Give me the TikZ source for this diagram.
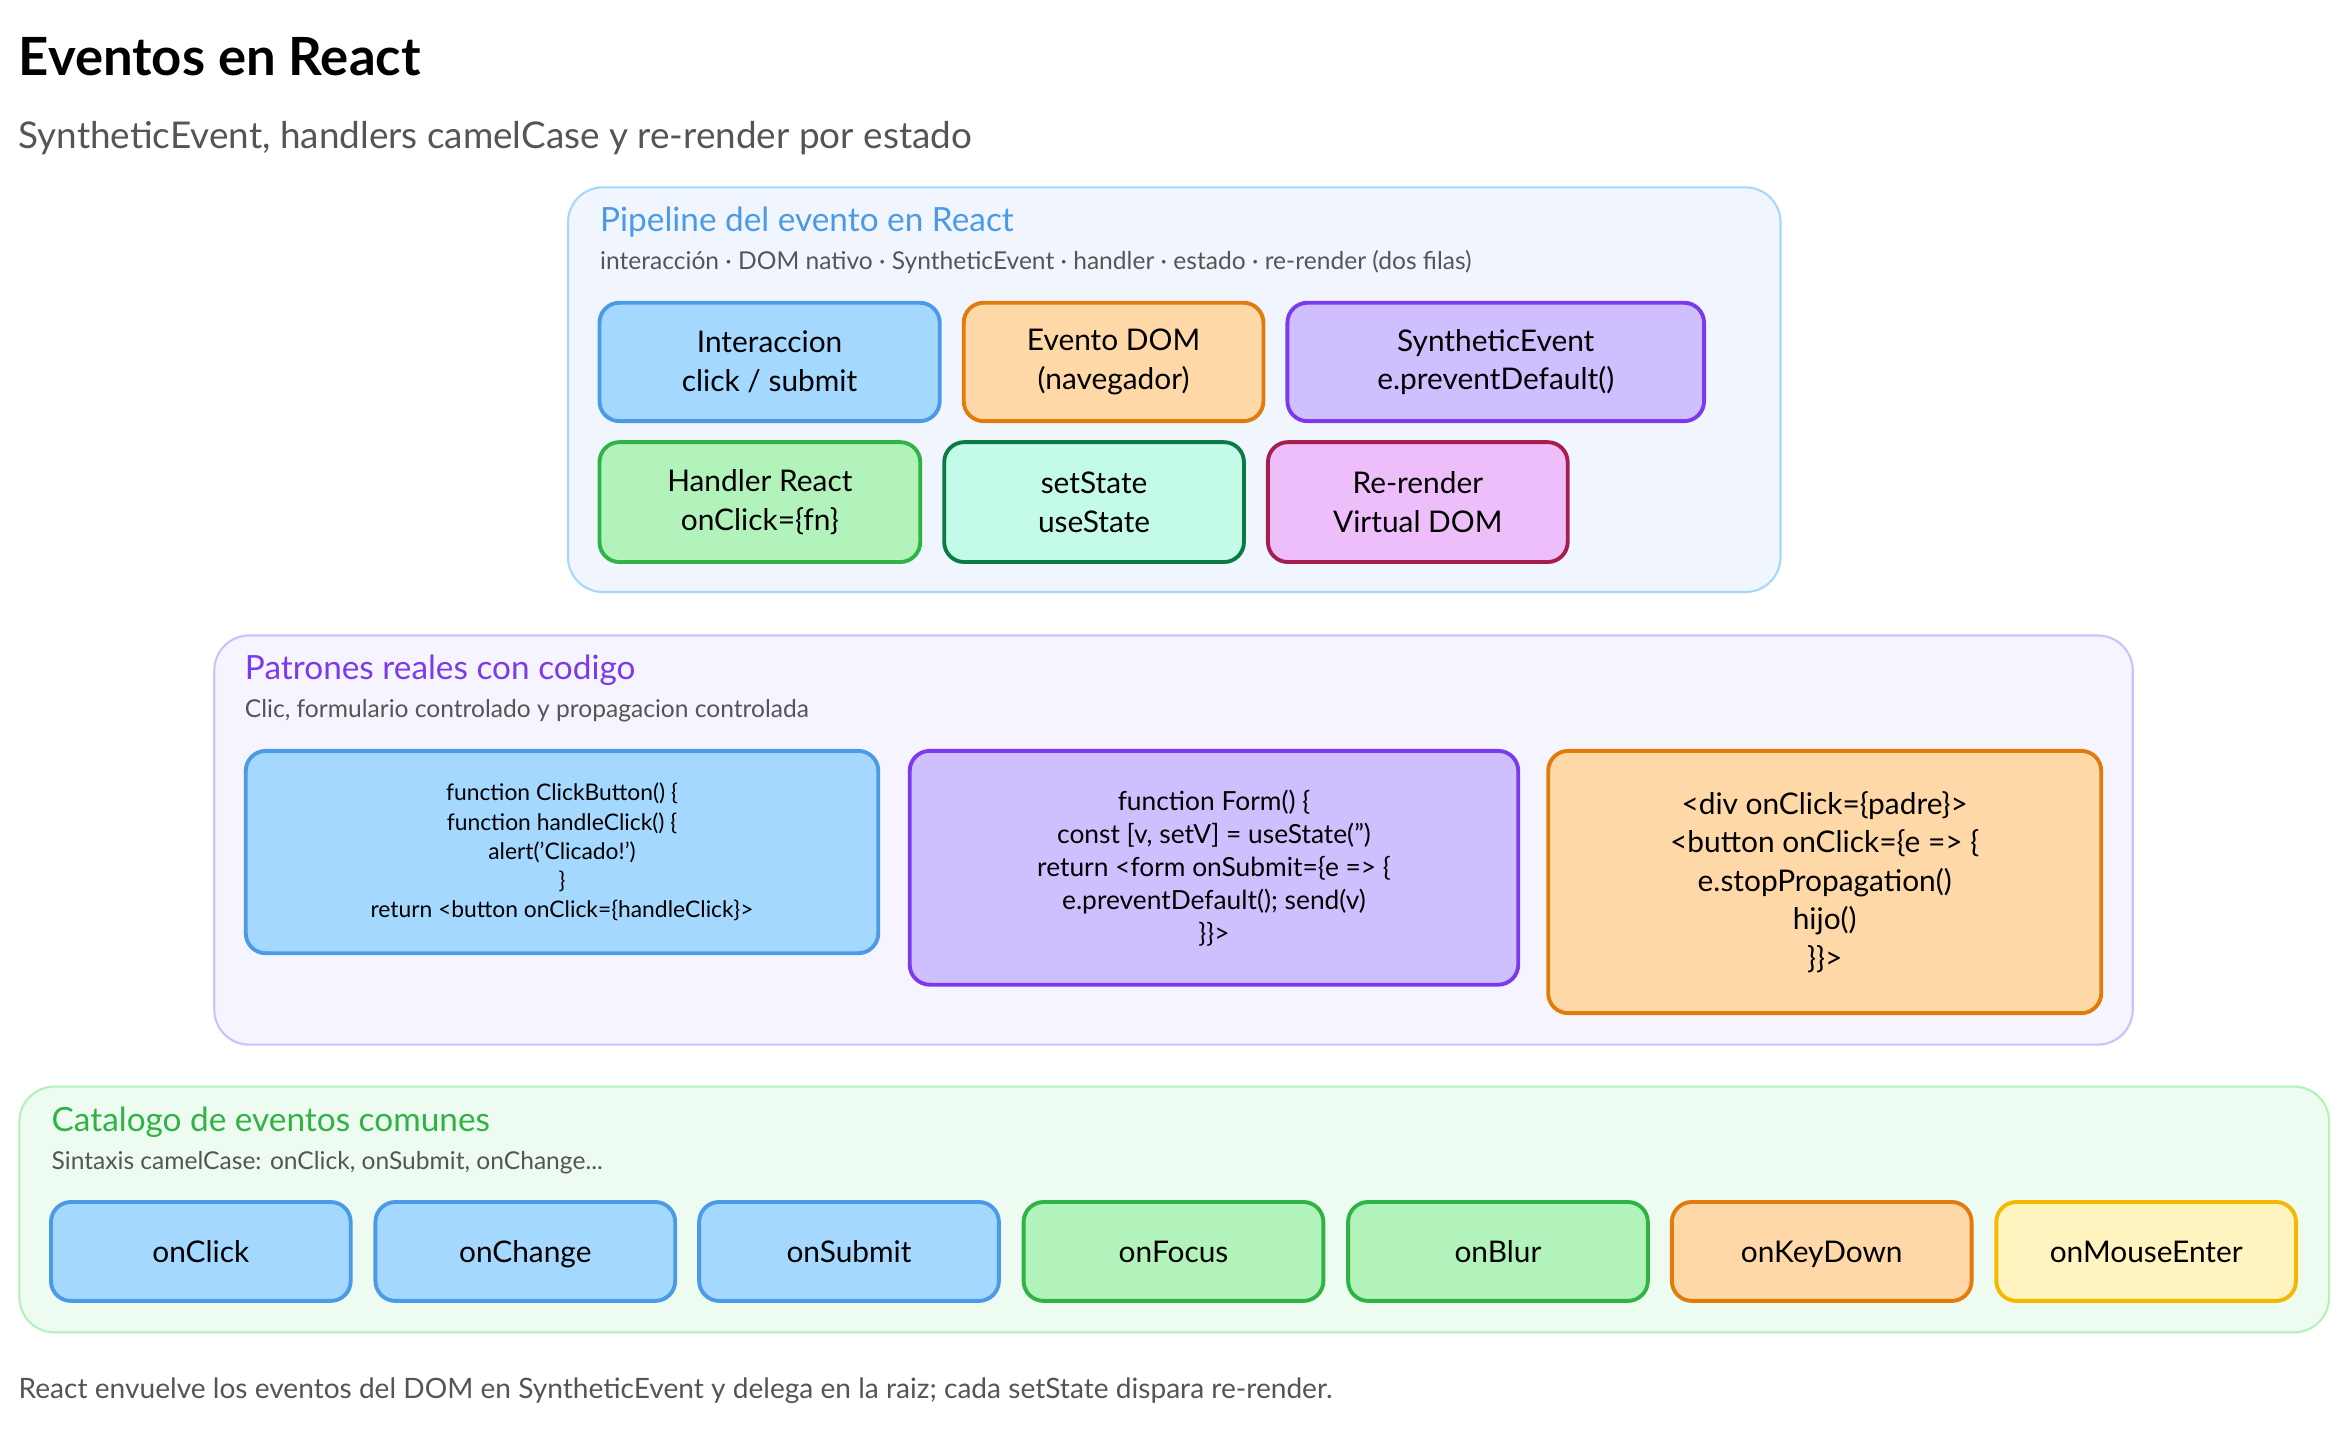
\documentclass[tikz,border=0pt]{standalone}
\usepackage{fontspec}
\setmainfont{Lato}
\definecolor{blueF}{HTML}{A5D8FF}\definecolor{blueD}{HTML}{4A9AE8}
\definecolor{orangeF}{HTML}{FFD8A8}\definecolor{orangeD}{HTML}{E07B0C}
\definecolor{purpleF}{HTML}{D0BFFF}\definecolor{purpleD}{HTML}{7C3AED}
\definecolor{greenF}{HTML}{B2F2BB}\definecolor{greenD}{HTML}{2FB344}
\definecolor{tealF}{HTML}{C3FAE8}\definecolor{tealD}{HTML}{0C7A45}
\definecolor{pinkF}{HTML}{EEBEFA}\definecolor{pinkD}{HTML}{A61E4D}
\definecolor{yellowF}{HTML}{FFF3BF}\definecolor{yellowD}{HTML}{F5B800}
\definecolor{txtgray}{HTML}{555555}
\definecolor{panelBlue}{HTML}{F1F6FE}\definecolor{panelPurple}{HTML}{F6F4FE}
\definecolor{panelGreen}{HTML}{EEFBF1}
\tikzset{
  box/.style={draw, line width=1.1pt, rounded corners=0.2cm, align=center, font=\fontsize{8.5}{11}\selectfont},
  panel/.style={draw, line width=0.6pt, rounded corners=0.35cm},
  ptitle/.style={anchor=west, inner sep=0pt, font=\fontsize{9.5}{11}\selectfont},
  psub/.style={anchor=west, inner sep=0pt, text=txtgray, font=\fontsize{7}{9}\selectfont},
  blue/.style={fill=blueF, draw=blueD}, orange/.style={fill=orangeF, draw=orangeD},
  purple/.style={fill=purpleF, draw=purpleD}, green/.style={fill=greenF, draw=greenD},
  teal/.style={fill=tealF, draw=tealD}, pink/.style={fill=pinkF, draw=pinkD},
  yellow/.style={fill=yellowF, draw=yellowD}
}
\begin{document}
\begin{tikzpicture}[x=0.015cm, y=-0.015cm]
\useasboundingbox (0,0) rectangle (1568,955);
% Title
\node[anchor=west, inner sep=0pt, font=\fontsize{15}{18}\selectfont\bfseries] (title) at (12,38) {Eventos en React};
\node[anchor=west, inner sep=0pt, text=txtgray, font=\fontsize{10.5}{12}\selectfont] (subtitle) at (12,92) {SyntheticEvent, handlers camelCase y re-render por estado};
% Pipeline
\node[panel, fill=panelBlue, draw=blueF, minimum width=12.135cm, minimum height=4.05cm] (pipeline) at (783.5,260) {};
\node[ptitle, text=blueD] (pipeline_t) at (400,148) {Pipeline del evento en React};
\node[psub] (pipeline_s) at (400,175) {interacción · DOM nativo · SyntheticEvent · handler · estado · re-render (dos filas)};
\node[box, blue, minimum width=3.405cm, minimum height=1.185cm] (interaccion) at (513.5,241.5) {Interaccion\\click / submit};
\node[box, orange, minimum width=3cm, minimum height=1.185cm] (evento_dom) at (743,241.5) {Evento DOM\\(navegador)};
\node[box, purple, minimum width=4.17cm, minimum height=1.185cm] (synthetic) at (998,241.5) {SyntheticEvent\\e.preventDefault()};
\node[box, green, minimum width=3.21cm, minimum height=1.2cm] (handler) at (507,335) {Handler React\\onClick=\{fn\}};
\node[box, teal, minimum width=3cm, minimum height=1.2cm] (set_state) at (730,335) {setState\\useState};
\node[box, pink, minimum width=3cm, minimum height=1.2cm] (rerender) at (946,335) {Re-render\\Virtual DOM};
% Patrones
\node[panel, fill=panelPurple, draw=purpleF, minimum width=19.2cm, minimum height=4.095cm] (patrones) at (783,560.5) {};
\node[ptitle, text=purpleD] (patrones_t) at (163,447) {Patrones reales con codigo};
\node[psub] (patrones_s) at (163,474) {Clic, formulario controlado y propagacion controlada};
\node[box, blue, minimum width=6.33cm, minimum height=2.025cm, font=\fontsize{6.5}{8.3}\selectfont] (code_click) at (375,568.5)
  {function ClickButton() \{\\function handleClick() \{\\alert('Clicado!')\\\}\\return <button onClick=\{handleClick\}>};
\node[box, purple, minimum width=6.09cm, minimum height=2.34cm, font=\fontsize{7.5}{9.4}\selectfont] (code_form) at (810,579)
  {function Form() \{\\const [v, setV] = useState('')\\return <form onSubmit=\{e => \{\\e.preventDefault(); send(v)\\\}\}>};
\node[box, orange, minimum width=5.535cm, minimum height=2.625cm] (code_prop) at (1217.5,588.5)
  {<div onClick=\{padre\}>\\<button onClick=\{e => \{\\e.stopPropagation()\\hijo()\\\}\}>};
% Catalogo
\node[panel, fill=panelGreen, draw=greenF, minimum width=23.115cm, minimum height=2.46cm] (catalogo) at (783.5,807) {};
\node[ptitle, text=greenD] (catalogo_t) at (34,749) {Catalogo de eventos comunes};
\node[psub] (catalogo_s) at (34,776) {Sintaxis camelCase: onClick, onSubmit, onChange...};
\foreach \n/\x/\s in {onClick/134/blue, onChange/350.5/blue, onSubmit/566.5/blue, onFocus/783/green,
  onBlur/999.5/green, onKeyDown/1215.5/orange, onMouseEnter/1432/yellow}
  \node[box, \s, minimum width=3cm, minimum height=0.99cm, text height=1.6ex, text depth=0.4ex] (ev_\n) at (\x,835) {\n};
% Footer
\node[anchor=west, inner sep=0pt, text=txtgray, font=\fontsize{8}{10}\selectfont] (footer) at (12,928) {React envuelve los eventos del DOM en SyntheticEvent y delega en la raiz; cada setState dispara re-render.};
\end{tikzpicture}
\end{document}
